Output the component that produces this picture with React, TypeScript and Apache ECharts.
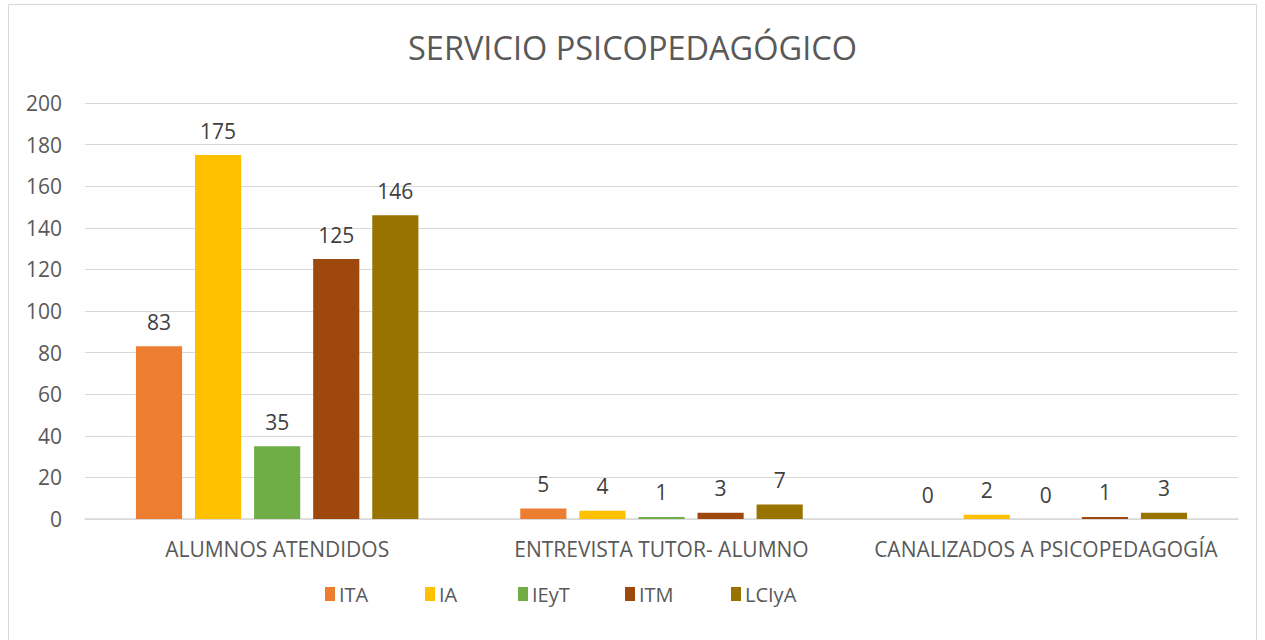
import React, { useEffect, useRef } from "react";
import * as echarts from "echarts";

const categories = ["ALUMNOS ATENDIDOS", "ENTREVISTA TUTOR- ALUMNO", "CANALIZADOS A PSICOPEDAGOGÍA"];
const seriesNames = ["ITA", "IA", "IEyT", "ITM", "LCIyA"];
const ITA = [83, 5, 0];
const IA = [175, 4, 2];
const IEyT = [35, 1, 0];
const ITM = [125, 3, 1];
const LCIyA = [146, 7, 3];
const colors = ["#ED7D31", "#FFC000", "#70AD47", "#9E480E", "#997300"];
const yTicks = { min: 0, max: 200, interval: 20 };
const legendLeft = [320, 420, 513, 620, 726];

const FONT = "'Open Sans', 'Noto Sans', sans-serif";

export default function App() {
  const ref = useRef<HTMLDivElement>(null);
  useEffect(() => {
    if (!ref.current) return;
    const chart = echarts.init(ref.current, null, { renderer: "svg" });
    const values = [ITA, IA, IEyT, ITM, LCIyA];
    chart.setOption({
      animation: false,
      textStyle: { fontFamily: FONT },
      title: {
        text: "SERVICIO PSICOPEDAGÓGICO",
        left: "center",
        top: 26,
        textStyle: { fontSize: 32.5, fontWeight: "normal", color: "#595959", fontFamily: FONT },
      },
      graphic: [
        {
          type: "rect",
          shape: { x: 8.5, y: 4.5, width: 1248, height: 650 },
          style: { fill: "none", stroke: "#d9d9d9", lineWidth: 1 },
          silent: true,
        },
      ],
      legend: seriesNames.map((name, i) => ({
        data: [name],
        top: 579,
        left: legendLeft[i],
        itemWidth: 10,
        itemHeight: 14,
        icon: "rect",
        textStyle: { fontSize: 20, color: "#595959", fontFamily: FONT, padding: [0, 0, 0, -1] },
      })),
      grid: { left: 85, right: 27, top: 103, bottom: 121, containLabel: false },
      xAxis: {
        type: "category",
        data: categories,
        axisLine: { lineStyle: { color: "#d9d9d9", width: 1.5 } },
        axisTick: { show: false },
        axisLabel: { fontSize: 21, color: "#595959", margin: 19, fontFamily: FONT, interval: 0 },
      },
      yAxis: {
        type: "value",
        min: yTicks.min,
        max: yTicks.max,
        interval: yTicks.interval,
        axisLine: { show: false },
        axisTick: { show: false },
        splitLine: { lineStyle: { color: "#d9d9d9", width: 1 } },
        axisLabel: { fontSize: 21, color: "#595959", margin: 23, fontFamily: FONT },
      },
      series: seriesNames.map((name, i) => ({
        name,
        type: "bar",
        data: values[i],
        barGap: "28%",
        barCategoryGap: "26.5%",
        itemStyle: { color: colors[i] },
        label: {
          show: true,
          position: "top",
          distance: 14,
          fontSize: 21,
          color: "#404040",
          fontFamily: FONT,
        },
      })),
    });
    return () => chart.dispose();
  }, []);
  return (
    <div
      ref={ref}
      style={{ position: "fixed", left: 0, top: 0, width: 1265, height: 640, background: "#fff" }}
    />
  );
}
